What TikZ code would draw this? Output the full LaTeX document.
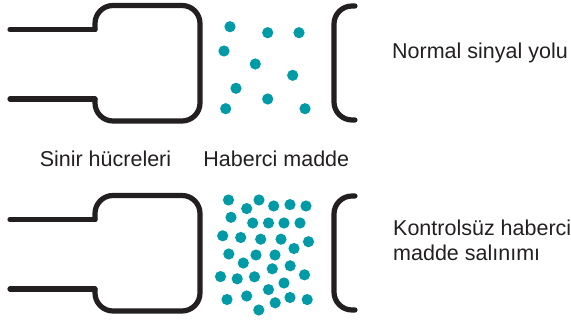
\documentclass[tikz,border=0pt]{standalone}
\usepackage{fontspec}
\setmainfont{Liberation Sans}
\usetikzlibrary{positioning}
\definecolor{inkdark}{HTML}{231F20}
\definecolor{signalteal}{HTML}{009BA6}

\begin{document}
\begin{tikzpicture}[
  x=1pt,y=-1pt,
  wall/.style={draw=inkdark,line width=5.2pt,line cap=round,line join=round},
  dot/.style={fill=signalteal,draw=none},
  caption/.style={font=\fontsize{21.5}{25}\selectfont,text=inkdark,inner sep=0pt},
]
\useasboundingbox (0,0) rectangle (571,321);

% axon end and receiving cell, drawn twice
\foreach \dy in {0,190} {
  \begin{scope}[shift={(0,\dy)}]
    \draw[wall] (10,29.5) -- (95,29.5);
    \draw[wall] (10,99) -- (95,99);
    \draw[wall,rounded corners=18pt] (95,29.5) -- (95,5.5) -- (200,5.5)
      -- (200,121) -- (95,121) -- (95,99);
    \draw[wall,rounded corners=18pt] (355,6) -- (334,6) -- (334,120) -- (355,120);
  \end{scope}
}

% few messenger molecules
\foreach \x/\y in {230/26.7,267.7/32.7,299/32.7,224/51,255.3/64,292.7/75.3,
                   236/88.3,267.7/99,225.7/108.7,305/108.7}
  \fill[dot] (\x,\y) circle[radius=5.6pt];

% flood of molecules
\foreach \x/\y in {228.5/200,259/200,246.7/208.6,273.7/206,290/204.6,306/206,
                   231/217.3,252.7/223,268.5/223,284/223,300/223,
                   222.7/235.8,240.7/237.5,260.7/239.2,281/239.2,308.5/241.7,294/248.5,
                   228.8/254,256/255,275/255,243.3/263,290.2/265.8,272.3/268.8,
                   220.5/276.6,237.2/278.8,254.5/276.8,304.5/274.8,284/283,268.5/289.6,
                   227/299.5,246.7/296,275.2/302.8,290/297.5,307.2/299.6,258.8/310}
  \fill[dot] (\x,\y) circle[radius=5.6pt];

\node[caption,anchor=base west] (normal) at (392,58.3) {Normal sinyal yolu};
\node[caption,anchor=base] (nerve) at (105.5,166.7) {Sinir hücreleri};
\node[caption,anchor=base] (messenger) at (276.3,166.7) {Haberci madde};
\node[caption,anchor=base west,align=left] (flood) at (393,260)
  {Kontrolsüz haberci\\madde salınımı};
\end{tikzpicture}
\end{document}
